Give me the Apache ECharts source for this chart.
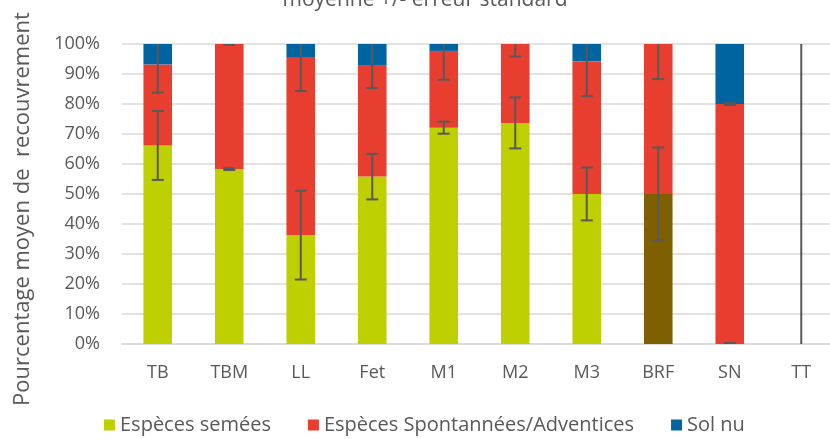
<!DOCTYPE html>
<html>
<head>
<meta charset="utf-8">
<script src="https://cdn.jsdelivr.net/npm/echarts@6/dist/echarts.min.js"></script>
<style>html,body{margin:0;padding:0;background:#fff}#c{width:830px;height:439px}</style>
</head>
<body>
<div id="c"></div>
<script>
var categories = ['TB', 'TBM', 'LL', 'Fet', 'M1', 'M2', 'M3', 'BRF', 'SN', 'TT'];
var semees = [66.2, 58.3, 36.3, 55.8, 72.1, 73.7, 50.0, 50.0, 0, 0];
var spontanees = [27.0, 41.7, 59.1, 37.2, 25.6, 26.3, 44.2, 50.0, 80.0, 0];
var solNu = [6.8, 0, 4.6, 7.0, 2.3, 0, 5.8, 0, 20.0, 0];
var errSemees = [11.5, 0.3, 14.8, 7.6, 2.0, 8.5, 8.8, 15.5, 0.3, null];
var errSpontanees = [9.4, 0.3, 11.1, 7.7, 9.6, 4.2, 11.6, 11.7, 0.3, 120];
var yTicks = [0, 10, 20, 30, 40, 50, 60, 70, 80, 90, 100];

var FONT = '"Open Sans", "DejaVu Sans", sans-serif';
var TXT = '#595959';
var GREEN = '#bfd000', RED = '#e83e30', BLUE = '#0064a0', BROWN = '#7f6000';

var errData = [];
categories.forEach(function (c, i) {
  if (errSemees[i] != null) errData.push([i, semees[i], errSemees[i]]);
  if (errSpontanees[i] != null) errData.push([i, semees[i] + spontanees[i], errSpontanees[i]]);
});

function renderErr(params, api) {
  var idx = api.value(0), c = api.value(1), e = api.value(2);
  var lo = Math.max(0, c - e), hi = Math.min(100, c + e);
  var p1 = api.coord([idx, lo]), p2 = api.coord([idx, hi]);
  var hw = 6;
  var style = { stroke: '#595959', lineWidth: 2 };
  var children = [{ type: 'line', shape: { x1: p1[0], y1: p1[1], x2: p2[0], y2: p2[1] }, style: style }];
  if (c - e >= -0.01) {
    var q = api.coord([idx, c - e]);
    children.push({ type: 'line', shape: { x1: q[0] - hw, y1: q[1], x2: q[0] + hw, y2: q[1] }, style: style });
  }
  if (c + e <= 100.01) {
    var r = api.coord([idx, c + e]);
    children.push({ type: 'line', shape: { x1: r[0] - hw, y1: r[1], x2: r[0] + hw, y2: r[1] }, style: style });
  }
  return { type: 'group', children: children };
}

var chart = echarts.init(document.getElementById('c'), null, { renderer: 'canvas' });
chart.setOption({
  animation: false,
  textStyle: { fontFamily: FONT },
  grid: { left: 122, right: -7, top: 44, bottom: 95, outerBoundsMode: 'none', containLabel: false },
  graphic: [
    { type: 'text', x: 425, style: { text: 'moyenne +/- erreur standard', x: 0, y: 11, textAlign: 'center', textVerticalAlign: 'bottom', fontSize: 21, fontFamily: FONT, fill: TXT } },
    { type: 'text', rotation: Math.PI / 2, x: 23, y: 209, style: { text: 'Pourcentage moyen de  recouvrement', x: 0, y: 0, textAlign: 'center', textVerticalAlign: 'middle', fontSize: 22, fontFamily: FONT, fill: TXT } }
  ],
  legend: {
    left: 99, top: 410, itemWidth: 11, itemHeight: 11, itemGap: 37,
    icon: 'rect',
    textStyle: { fontSize: 20, color: TXT, fontFamily: FONT },
    data: ['Espèces semées', 'Espèces Spontannées/Adventices', 'Sol nu']
  },
  xAxis: {
    type: 'category', data: categories,
    axisTick: { show: false },
    axisLine: { lineStyle: { color: '#d9d9d9', width: 1.5 } },
    axisLabel: { fontSize: 18, color: TXT, margin: 20, fontFamily: FONT }
  },
  yAxis: {
    type: 'value', min: yTicks[0], max: yTicks[yTicks.length - 1], interval: 10,
    axisLine: { show: false }, axisTick: { show: false },
    splitLine: { lineStyle: { color: '#d9d9d9', width: 1.5 } },
    axisLabel: { formatter: '{value}%', fontSize: 18, color: TXT, margin: 22, fontFamily: FONT }
  },
  series: [
    { name: 'Espèces semées', type: 'bar', stack: 'a', barWidth: '40%', itemStyle: { color: GREEN },
      data: semees.map(function (v, i) { return categories[i] === 'BRF' ? { value: v, itemStyle: { color: BROWN } } : v; }) },
    { name: 'Espèces Spontannées/Adventices', type: 'bar', stack: 'a', itemStyle: { color: RED }, data: spontanees },
    { name: 'Sol nu', type: 'bar', stack: 'a', itemStyle: { color: BLUE }, data: solNu },
    { name: 'err', type: 'custom', renderItem: renderErr, data: errData, z: 10, clip: true,
      encode: { x: 0, y: 1 } }
  ]
});
</script>
</body>
</html>
